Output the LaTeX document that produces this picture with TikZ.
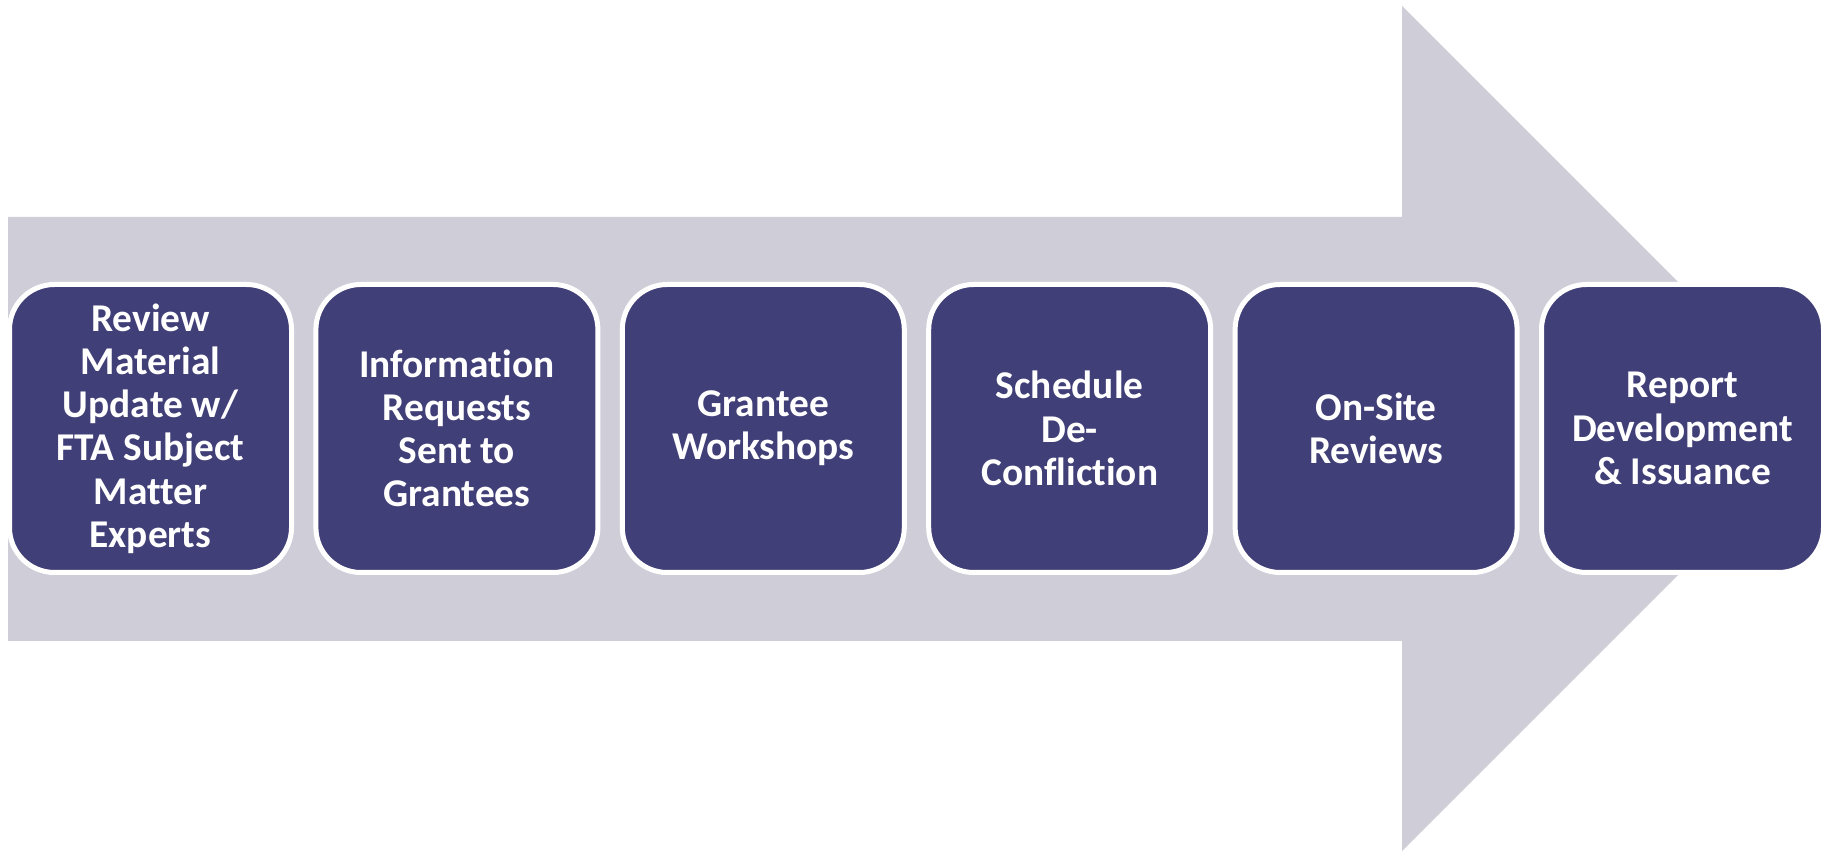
\documentclass[tikz,border=0pt]{standalone}
\usepackage{fontspec}
\setmainfont{Carlito}[Ligatures=NoCommon]
\usetikzlibrary{positioning}

\definecolor{arrowgrey}{RGB}{207,206,216}
\definecolor{stagefill}{RGB}{65,63,119}

\tikzset{
  stage/.style={rectangle, rounded corners=0.45cm, draw=white, line width=0.05cm,
    fill=stagefill, text=white, minimum width=2.82cm, minimum height=2.88cm,
    inner sep=0pt, outer sep=0pt, align=center,
    font=\fontsize{11.2}{12.3}\selectfont\bfseries},
}

\begin{document}
\begin{tikzpicture}
   \useasboundingbox (0,0) rectangle (18.24,8.52);

   % big background arrow
   \fill[arrowgrey] (0.08,6.35) -- (14.02,6.35) -- (14.02,8.46) -- (18.245,4.235)
      -- (14.02,0.01) -- (14.02,2.11) -- (0.08,2.11) -- cycle;

   % process steps
   \node[stage]                      (s1) at (1.505,4.235)
      {Review\\Material\\Update w/\\FTA Subject\\Matter\\Experts};
   \node[stage, right=0.244cm of s1] (s2) {Informat\kern0pt ion\\Requests\\Sent to\\Grantees};
   \node[stage, right=0.244cm of s2] (s3) {Grantee\\Workshops};
   \node[stage, right=0.244cm of s3] (s4) {Schedule\\De-\\Conflict\kern0pt ion};
   \node[stage, right=0.244cm of s4] (s5) {On-Site\\Reviews};
   \node[stage, right=0.244cm of s5] (s6) {Report\\Development\\\& Issuance};
\end{tikzpicture}
\end{document}
